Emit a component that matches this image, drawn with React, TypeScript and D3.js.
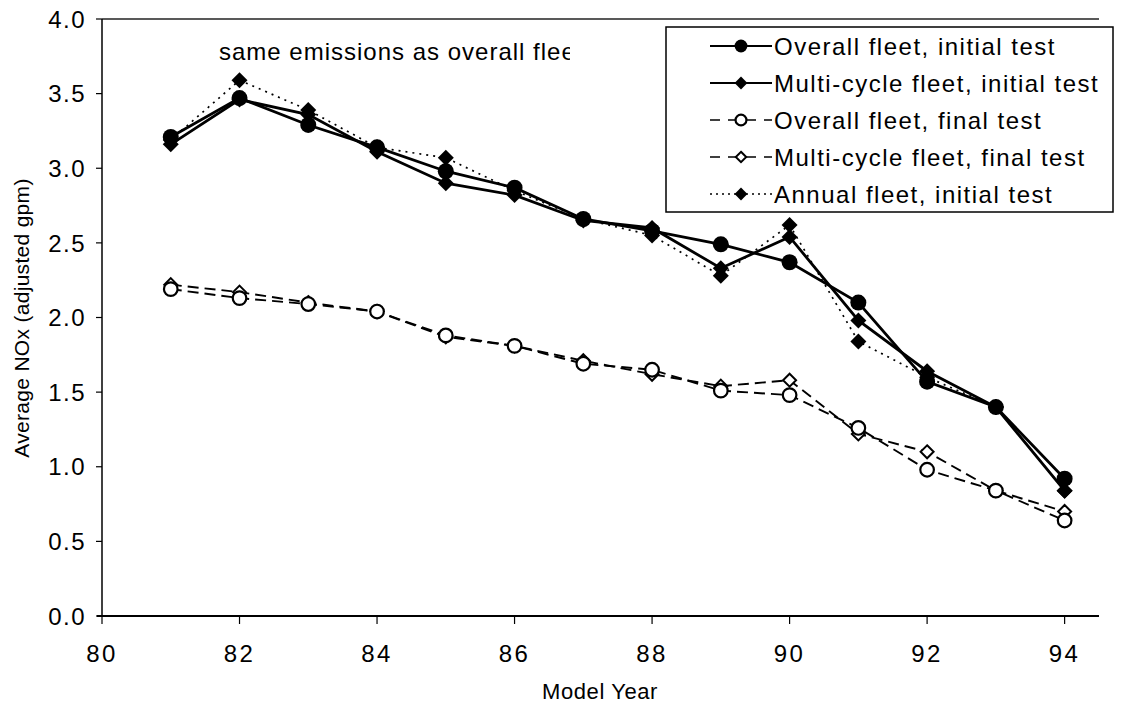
import React, { useEffect, useRef } from 'react';
import * as d3 from 'd3';

// model years and series (average NOx, adjusted gpm)
const years = [81, 82, 83, 84, 85, 86, 87, 88, 89, 90, 91, 92, 93, 94];
const overallInitial = [3.21, 3.47, 3.29, 3.14, 2.98, 2.87, 2.66, 2.58, 2.49, 2.37, 2.10, 1.57, 1.40, 0.92];
const multiInitial = [3.16, 3.46, 3.36, 3.11, 2.90, 2.82, 2.65, 2.60, 2.33, 2.54, 1.98, 1.64, 1.40, 0.84];
const overallFinal = [2.19, 2.13, 2.09, 2.04, 1.88, 1.81, 1.69, 1.65, 1.51, 1.48, 1.26, 0.98, 0.84, 0.64];
const multiFinal = [2.22, 2.17, 2.10, 2.04, 1.87, 1.81, 1.71, 1.62, 1.54, 1.58, 1.22, 1.10, 0.84, 0.70];
const annualInitial = [3.19, 3.59, 3.39, 3.14, 3.07, 2.85, 2.66, 2.55, 2.28, 2.62, 1.84, 1.60, 1.40, 0.84];

const xTicks = [80, 82, 84, 86, 88, 90, 92, 94];
const yTicks = [0, 0.5, 1, 1.5, 2, 2.5, 3, 3.5, 4];

const seriesNames = [
  'Overall fleet, initial test',
  'Multi-cycle fleet, initial test',
  'Overall fleet, final test',
  'Multi-cycle fleet, final test',
  'Annual fleet, initial test',
];

const FONT = '"Liberation Sans", Arial, sans-serif';

function App() {
  const ref = useRef<SVGSVGElement>(null);

  useEffect(() => {
    const svg = d3.select(ref.current);
    svg.selectAll('*').remove();

    const left = 102, right = 1099, top = 19, bottom = 616;

    const x = d3.scaleLinear().domain([80, 94.5]).range([left, right]);
    const y = d3.scaleLinear().domain([0, 4]).range([bottom, top]);

    // series styles: marker kind, filled?, dash
    const series = [
      { name: seriesNames[0], values: overallInitial, marker: 'circle', fill: true, dash: null, width: 2.8 },
      { name: seriesNames[1], values: multiInitial, marker: 'diamond', fill: true, dash: null, width: 2.8 },
      { name: seriesNames[2], values: overallFinal, marker: 'circle', fill: false, dash: '11,6', width: 1.9 },
      { name: seriesNames[3], values: multiFinal, marker: 'diamond', fill: false, dash: '11,6', width: 1.9 },
      { name: seriesNames[4], values: annualInitial, marker: 'diamond', fill: true, dash: '2,5', width: 1.7 },
    ];

    const drawMarker = (g: any, kind: string, fill: boolean, cx: number, cy: number, k = 1) => {
      if (kind === 'circle') {
        g.append('circle')
          .attr('cx', cx).attr('cy', cy)
          .attr('r', (fill ? 8 : 6.8) * k)
          .attr('fill', fill ? 'black' : 'white')
          .attr('stroke', 'black')
          .attr('stroke-width', fill ? 0 : 2.2);
      } else {
        const h = (fill ? 8 : 6.5) * k;
        g.append('path')
          .attr('d', `M${cx},${cy - h}L${cx + h},${cy}L${cx},${cy + h}L${cx - h},${cy}Z`)
          .attr('fill', fill ? 'black' : 'white')
          .attr('stroke', 'black')
          .attr('stroke-width', fill ? 0 : 2);
      }
    };

    // axes lines
    svg.append('line').attr('x1', left).attr('x2', right).attr('y1', top).attr('y2', top)
      .attr('stroke', '#222').attr('stroke-width', 1.5);
    svg.append('line').attr('x1', left).attr('x2', left).attr('y1', top).attr('y2', bottom)
      .attr('stroke', 'black').attr('stroke-width', 1.5);
    svg.append('line').attr('x1', left - 5).attr('x2', right).attr('y1', bottom).attr('y2', bottom)
      .attr('stroke', 'black').attr('stroke-width', 2.2);

    const yAx = svg.append('g');
    yTicks.forEach(t => {
      yAx.append('line').attr('x1', left - 6).attr('x2', left).attr('y1', y(t)).attr('y2', y(t))
        .attr('stroke', 'black').attr('stroke-width', 1.2);
      yAx.append('text').attr('x', left - 16).attr('y', y(t)).attr('dy', '0.36em')
        .attr('text-anchor', 'end').attr('font-family', FONT).attr('font-size', 24)
        .attr('letter-spacing', 1.5).text(d3.format('.1f')(t));
    });
    const xAx = svg.append('g');
    xTicks.forEach(t => {
      xAx.append('line').attr('x1', x(t)).attr('x2', x(t)).attr('y1', bottom).attr('y2', bottom + 8)
        .attr('stroke', 'black').attr('stroke-width', 1.2);
      xAx.append('text').attr('x', x(t)).attr('y', 662)
        .attr('text-anchor', 'middle').attr('font-family', FONT).attr('font-size', 24)
        .attr('letter-spacing', 2.5).text(String(t));
    });

    svg.append('text').attr('transform', `translate(29,318) rotate(-90)`)
      .attr('text-anchor', 'middle').attr('font-family', FONT).attr('font-size', 21)
      .attr('letter-spacing', 0.3).text('Average NOx (adjusted gpm)');
    svg.append('text').attr('x', 600).attr('y', 699)
      .attr('text-anchor', 'middle').attr('font-family', FONT).attr('font-size', 22)
      .attr('letter-spacing', 0.6).text('Model Year');

    // annotation, clipped at its text box like the source
    svg.append('clipPath').attr('id', 'noteClip')
      .append('rect').attr('x', 200).attr('y', 30).attr('width', 370).attr('height', 40);
    svg.append('text').attr('x', 219).attr('y', 60)
      .attr('clip-path', 'url(#noteClip)')
      .attr('font-family', FONT).attr('font-size', 24).attr('letter-spacing', 1)
      .text('same emissions as overall fleet');

    const line = d3.line<number>().x((_, i) => x(years[i])).y(v => y(v));

    // draw lines
    const plot = svg.append('g');
    series.forEach(s => {
      plot.append('path').attr('d', line(s.values) as string)
        .attr('fill', 'none').attr('stroke', 'black').attr('stroke-width', s.width)
        .attr('stroke-dasharray', s.dash || null);
    });
    // markers, first series drawn last
    [4, 3, 2, 1, 0].forEach(k => {
      const s = series[k];
      s.values.forEach((v, i) => drawMarker(plot, s.marker, s.fill, x(years[i]), y(v)));
    });

    // legend
    const lg = svg.append('g');
    lg.append('rect').attr('x', 666).attr('y', 27).attr('width', 447).attr('height', 185)
      .attr('fill', 'white').attr('stroke', 'black').attr('stroke-width', 1.5);
    series.forEach((s, i) => {
      const cy = 46 + i * 37;
      lg.append('line').attr('x1', 710).attr('x2', 772).attr('y1', cy).attr('y2', cy)
        .attr('stroke', 'black').attr('stroke-width', s.dash ? 1.6 : 2)
        .attr('stroke-dasharray', s.dash === '11,6' ? '10,8' : s.dash === '2,5' ? '2,4' : null);
      drawMarker(lg, s.marker, s.fill, 741, cy, 0.8);
      lg.append('text').attr('x', 774).attr('y', cy).attr('dy', '0.36em')
        .attr('font-family', FONT).attr('font-size', 24).attr('letter-spacing', 1.5)
        .text(s.name);
    });
  }, []);

  return (
    <svg ref={ref} width={1125} height={709}
      style={{ position: 'absolute', left: 0, top: 0, background: 'white' }} />
  );
}

export default App;
